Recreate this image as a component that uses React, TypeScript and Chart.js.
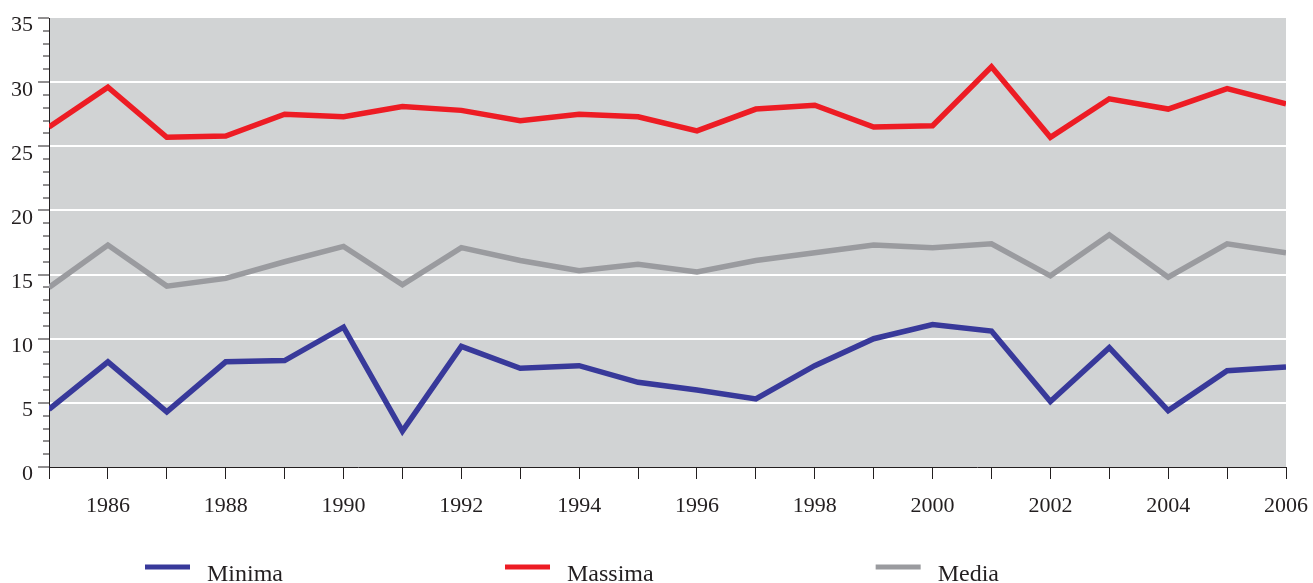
import React, { useEffect, useRef } from "react";
import { Chart, registerables } from "chart.js";

Chart.register(...registerables);

const years = [
  "1985", "1986", "1987", "1988", "1989", "1990", "1991", "1992", "1993", "1994", "1995",
  "1996", "1997", "1998", "1999", "2000", "2001", "2002", "2003", "2004", "2005", "2006",
];
const xTickLabels = [
  "", "1986", "", "1988", "", "1990", "", "1992", "", "1994", "",
  "1996", "", "1998", "", "2000", "", "2002", "", "2004", "", "2006",
];
const yTickLabels = ["0", "5", "10", "15", "20", "25", "30", "35"];

const minima = [4.5, 8.2, 4.3, 8.2, 8.3, 10.9, 2.8, 9.4, 7.7, 7.9, 6.6, 6.0, 5.3, 7.9, 10.0, 11.1, 10.6, 5.1, 9.3, 4.4, 7.5, 7.8];
const massima = [26.5, 29.6, 25.7, 25.8, 27.5, 27.3, 28.1, 27.8, 27.0, 27.5, 27.3, 26.2, 27.9, 28.2, 26.5, 26.6, 31.2, 25.7, 28.7, 27.9, 29.5, 28.3];
const media = [14.0, 17.3, 14.1, 14.7, 16.0, 17.2, 14.2, 17.1, 16.1, 15.3, 15.8, 15.2, 16.1, 16.7, 17.3, 17.1, 17.4, 14.9, 18.1, 14.8, 17.4, 16.7];

const seriesLabels = ["Minima", "Massima", "Media"];
const seriesColors = ["#38399a", "#ed1c24", "#9a9b9f"];

const TEXT = "#231f20";
const SERIF = "'Liberation Serif', 'Times New Roman', serif";

const bgPlugin = {
  id: "plotBg",
  beforeDraw(chart: any) {
    const { ctx, chartArea } = chart;
    ctx.save();
    ctx.fillStyle = "#d1d3d4";
    ctx.fillRect(chartArea.left, chartArea.top, chartArea.right - chartArea.left, chartArea.bottom - chartArea.top);
    ctx.restore();
  },
};

const legendPlugin = {
  id: "customLegend",
  afterDraw(chart: any) {
    const { ctx } = chart;
    const startX = 145;
    const lineY = 567;
    const lineW = 45;
    const textGap = 17;
    const itemGap = 222;
    ctx.save();
    ctx.font = `24px ${SERIF}`;
    ctx.textBaseline = "alphabetic";
    ctx.textAlign = "left";
    let x = startX;
    chart.data.datasets.forEach((ds: any) => {
      ctx.fillStyle = ds.borderColor;
      ctx.fillRect(x, lineY - 2.5, lineW, 5);
      ctx.fillStyle = TEXT;
      ctx.fillText(ds.label, x + lineW + textGap, 581);
      x += lineW + textGap + ctx.measureText(ds.label).width + itemGap;
    });
    ctx.restore();
  },
};

export default function App() {
  const ref = useRef<HTMLCanvasElement>(null);
  useEffect(() => {
    if (!ref.current) return;
    const mk = (data: number[], i: number) => ({
      label: seriesLabels[i],
      data,
      borderColor: seriesColors[i],
      backgroundColor: seriesColors[i],
      borderWidth: 5.5,
      pointRadius: 0,
      pointHoverRadius: 0,
      tension: 0,
      fill: false,
      clip: 0,
      borderJoinStyle: "miter" as const,
      borderCapStyle: "butt" as const,
    });
    const chart = new Chart(ref.current, {
      type: "line",
      data: {
        labels: years,
        datasets: [mk(minima, 0), mk(massima, 1), mk(media, 2)],
      },
      options: {
        animation: false,
        responsive: false,
        devicePixelRatio: 1,
        layout: { padding: { top: 18, right: 27, left: 0, bottom: 0 } },
        plugins: {
          legend: { display: false },
          tooltip: { enabled: false },
        },
        scales: {
          x: {
            type: "category",
            offset: false,
            afterFit: (s: any) => {
              s.height = 116;
              s.paddingLeft = 0;
              s.paddingRight = 0;
            },
            grid: {
              offset: false,
              drawOnChartArea: false,
              drawTicks: true,
              tickLength: 12,
              tickColor: TEXT,
              tickWidth: 1,
              color: TEXT,
            },
            border: { display: true, color: TEXT, width: 1 },
            ticks: {
              autoSkip: false,
              maxRotation: 0,
              minRotation: 0,
              padding: 14,
              color: TEXT,
              font: { family: SERIF, size: 22 },
              callback: (_v: any, i: number) => xTickLabels[i],
            },
          },
          y: {
            type: "linear",
            min: 0,
            max: 35,
            afterFit: (s: any) => {
              s.width = 49;
              s.paddingTop = 0;
              s.paddingBottom = 0;
            },
            grid: {
              drawTicks: true,
              tickLength: 11,
              tickColor: TEXT,
              tickWidth: 1,
              lineWidth: 2,
              color: (c: any) => {
                const v = c.tick ? c.tick.value : 0;
                return v % 5 === 0 && v > 0 && v < 35 ? "#ffffff" : "rgba(0,0,0,0)";
              },
              tickBorderDash: (c: any) => {
                const v = c.tick ? c.tick.value : 0;
                return v % 5 === 0 ? [] : [0, 5, 6, 30];
              },
            } as any,
            border: { display: true, color: TEXT, width: 1 },
            ticks: {
              stepSize: 1,
              autoSkip: false,
              padding: 5,
              color: TEXT,
              font: { family: SERIF, size: 22, lineHeight: 0.7 },
              callback: (v: any) => {
                const s = String(v);
                return v % 5 === 0 && yTickLabels.includes(s) ? ["", s] : "";
              },
            },
          },
        },
      },
      plugins: [bgPlugin, legendPlugin],
    });
    return () => chart.destroy();
  }, []);
  return (
    <div style={{ position: "fixed", left: 0, top: 0, width: 1313, height: 583, background: "#fff" }}>
      <canvas ref={ref} width={1313} height={583} style={{ display: "block" }} />
    </div>
  );
}
